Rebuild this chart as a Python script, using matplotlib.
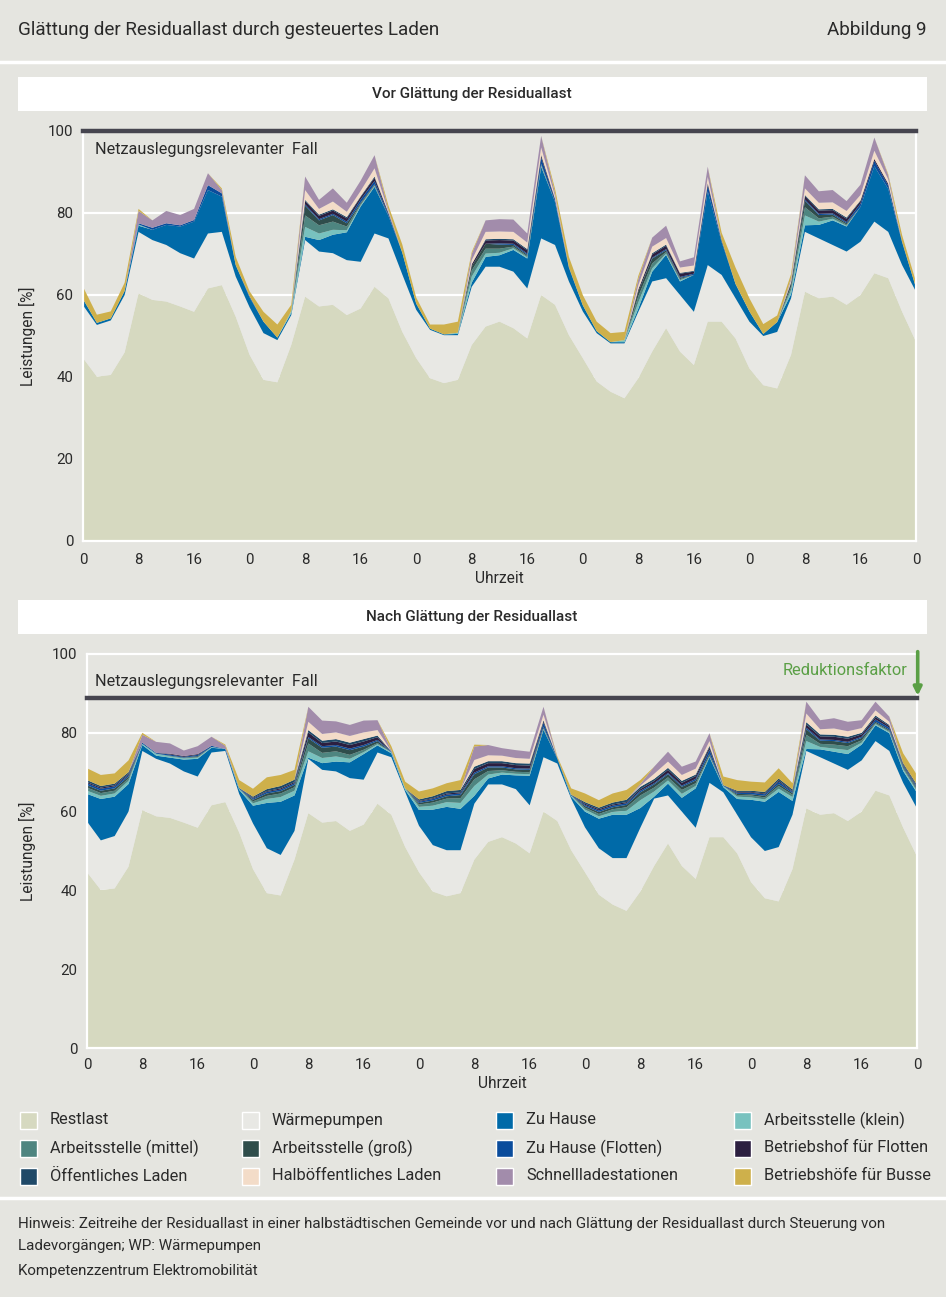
import numpy as np
import matplotlib.pyplot as plt
from matplotlib.patches import Rectangle
from matplotlib.lines import Line2D

plt.rcParams['font.family'] = ['Roboto', 'DejaVu Sans']

BG = '#e5e5e0'
TXT = '#2a2a2a'

# time axis: 5 days, one value every 2 hours
hours = np.arange(0, 121, 2)
xtick_pos = list(range(0, 121, 8))
xtick_lab = ['0', '8', '16', '0', '8', '16', '0', '8', '16',
             '0', '8', '16', '0', '8', '16', '0']

# shared base layers (same in both panels)
restlast = [44.6, 40.1, 40.5, 46.0, 60.4, 58.8, 58.4, 57.2, 55.9, 61.6, 62.4, 54.7, 45.4,
            39.3, 38.7, 47.8, 59.6, 57.2, 57.6, 55.1, 56.7, 62.0, 59.2, 51.0, 44.6,
            39.7, 38.5, 39.3, 47.8, 52.3, 53.5, 51.9, 49.4, 60.0, 57.6, 50.2, 44.6,
            38.9, 36.4, 34.8, 39.7, 46.2, 51.9, 46.2, 42.9, 53.5, 53.5, 49.4, 42.1,
            38.0, 37.2, 45.4, 60.8, 59.2, 59.6, 57.6, 60.0, 65.3, 64.1, 55.9, 48.6]
waermepumpen = [12.9, 12.6, 13.3, 14.0, 15.0, 14.6, 13.8, 13.0, 13.0, 13.4, 13.0, 9.8, 11.6,
                11.4, 10.3, 7.3, 13.8, 13.4, 12.6, 13.4, 11.4, 13.0, 14.6, 14.0, 11.8,
                11.8, 11.7, 10.9, 14.2, 14.6, 13.4, 13.8, 12.2, 13.8, 14.6, 13.1, 11.4,
                11.8, 11.8, 13.4, 16.2, 17.1, 12.2, 13.8, 13.0, 13.8, 11.4, 9.8, 11.4,
                12.0, 13.8, 13.8, 14.6, 14.6, 12.6, 13.0, 13.0, 12.6, 11.3, 11.4, 12.2]

# ---- before smoothing (top panel) ----
vor_zu_hause = [1.5, .5, .5, 1, 1.5, 2.5, 4.9, 6.5, 9, 10.6, 8.6, 2.8, 2.4,
                2.8, .6, .5, .8, 2.8, 4.5, 6.8, 13.5, 11.4, 5.5, 5.3, 1.5,
                .3, .2, .3, 1, 2.4, 2.8, 5.3, 7.3, 17.5, 10.5, 3.3, 1.5,
                .5, .3, .3, .8, 2.4, 5.7, 3.3, 9, 18, 8, 3.5, 2.5,
                .5, 2.4, 1, 1.6, 3.3, 6, 6.1, 8.5, 13.5, 10.5, 5.5, 1]
vor_as_klein = [0, 0, 0, 0, .3, 0, 0, 0, 0, 0, 0, 0, 0,
                0, 0, .5, 2.4, 1.6, 1.2, .5, .3, .2, 0, 0, 0,
                0, 0, .3, 1.5, .8, .6, .4, .3, .3, 0, 0, 0,
                0, 0, .5, 1.5, .8, .3, .3, 0, 0, 0, 0, 0,
                0, 0, 1, 2.4, .8, .4, .2, 0, 0, 0, 0, 0]
vor_as_mittel = [0, 0, 0, 0, 0, 0, 0, 0, 0, 0, 0, 0, 0,
                 0, 0, 0, 2.8, 2.0, 2.0, .9, .3, .2, 0, 0, 0,
                 0, 0, 0, 1.5, 1.2, 1.0, .4, .3, .2, 0, 0, 0,
                 0, 0, 0, 1.5, 1.2, .4, .3, 0, 0, 0, 0, 0,
                 0, 0, .8, 2, .8, .5, .3, 0, 0, 0, 0, 0]
vor_as_gross = [0, 0, 0, 0, 0, 0, 0, 0, 0, 0, 0, 0, 0,
                0, 0, 0, 2.4, 1.2, 1.6, .8, .3, .2, 0, 0, 0,
                0, 0, 0, 1.0, 1.2, 1.0, .4, .3, .2, 0, 0, 0,
                0, 0, 0, 1.2, 1.2, .4, .3, 0, 0, 0, 0, 0,
                0, 0, .8, 1.6, .8, .5, .3, 0, 0, 0, 0, 0]
vor_zh_flotten = [0, 0, 0, 0, .3, .5, .4, .3, .4, 1.2, .8, 0, .3,
                  0, 0, 0, .3, .3, .3, .4, .8, .8, .4, 0, 0,
                  0, 0, 0, 0, 0, .3, .3, .3, 1.5, .5, .2, 0,
                  0, 0, 0, 0, .2, .3, .2, .3, 1.5, .3, 0, 0,
                  0, 0, 0, .3, .3, .3, .3, .8, 1.3, .8, .2, 0]
vor_bh_flotten = [0, 0, 0, 0, 0, 0, 0, 0, 0, 0, 0, 0, 0,
                  0, 0, 0, .8, .8, .8, .8, .6, .8, .3, 0, 0,
                  0, 0, 0, .5, .8, .8, .8, .8, .5, .3, 0, 0,
                  0, 0, 0, .5, .8, .8, .8, .5, .5, .2, 0, 0,
                  0, 0, .3, .8, .8, .8, .8, .6, .5, .4, 0, 0]
vor_oeffentlich = [0, 0, 0, 0, 0, 0, 0, 0, 0, 0, 0, 0, 0,
                   0, 0, 0, .3, .3, .3, .3, .2, .3, .1, 0, 0,
                   0, 0, 0, 0, .3, .3, .3, .3, .2, 0, 0, 0,
                   0, 0, 0, 0, .3, .3, .2, .2, 0, 0, 0, 0,
                   0, 0, 0, .3, .3, .3, .3, .2, 0, .1, 0, 0]
vor_halboeff = [0, 0, 0, 0, 0, 0, 0, 0, 0, 0, 0, 0, 0,
                0, 0, 0, 2.4, 1.4, 1.9, 1.3, 1.3, 2.0, .3, 0, 0,
                0, 0, 0, 1.0, 1.8, 1.8, 1.8, 1.6, 1.8, .6, 0, 0,
                0, 0, 0, 1.0, 1.6, 1.6, 1.3, 1.3, 1.5, 0, 0, 0,
                0, 0, .5, 1.6, 1.6, 1.6, 1.6, 1.3, 2.0, 1.0, 0, 0]
vor_schnell = [0, 0, 0, 0, 3.0, 1.8, 3.0, 2.5, 2.7, 2.9, .8, 0, 0,
               0, 0, 0, 3.3, 2.2, 3.2, 2.2, 2.5, 3.2, .4, 0, 0,
               0, 0, 0, 1.5, 2.8, 3.0, 3.0, 2.2, 2.8, .8, 0, 0,
               0, 0, 0, 1.5, 2.2, 3.0, 1.5, 2.0, 2.5, 0, 0, 0,
               0, 0, .5, 3.2, 2.8, 3.0, 2.4, 2.5, 3.2, 1.0, 0, 0]
vor_busse = [3, 2, 1.7, 2, .5, 0, 0, 0, 0, 0, .4, 2, 1.2,
             2.4, 3.2, 1.5, 0, 0, 0, 0, 0, 0, 1.0, 2, 1.5,
             1, 2.4, 2.7, .5, 0, 0, 0, 0, 0, 1, 2.5, 2.5,
             2.3, 2.2, 2, .8, 0, 0, 0, 0, 0, 1.8, 4, 3.2,
             2.4, 1.6, 1, 0, 0, 0, 0, 0, 0, .3, 1.6, 1.4]

# ---- after smoothing (bottom panel) ----
nach_zu_hause = [7, 10.5, 10, 7, 1.5, .8, 1.5, 3, 4.5, 1.2, .5, 1, 4.5,
                 11.5, 13.5, 9, .3, 1.7, 2.5, 4, 6.5, 1.8, 1, .5, 4,
                 9, 11, 10.5, 2, 1.5, 2.5, 3.5, 7.5, 7, 1.2, .5, 4,
                 7.5, 11, 11, 5, .5, 3, 3.5, 10, 6.5, 1.3, 4, 9.5,
                 12.5, 14, 3.5, .5, 2, 3, 4, 4, 4, 4.5, 3, 4]
nach_as_klein = [.8, .8, .8, .8, .3, .5, .3, .3, .3, .2, 0, .3, .6,
                 1, 1.2, 1.2, 1.6, 1.3, 1.3, .9, .5, .3, .3, .4, .8,
                 1, 1.2, 1.5, 2.5, 1, .5, .4, .4, .2, 0, .3, .5,
                 .6, .7, 1, 2, 1.3, .8, 1, .6, .2, .3, .6, .6,
                 .6, .8, 1, 2, .6, .8, 1, .5, .3, .3, .5, .4]
nach_as_mittel = [.8, .7, .7, .6, 0, 0, .2, .2, .2, 0, 0, 0, .5,
                  .8, .9, .9, 2, 1.3, 1.3, 1, .6, .3, 0, 0, .6,
                  .8, .9, 1.2, 1.7, .9, .6, .5, .5, .2, 0, 0, .5,
                  .6, .7, .9, 1.2, 1, .8, 1, .7, .3, 0, .4, .5,
                  .5, .7, .6, 1.6, .8, 1, 1, .6, .3, .3, .4, .4]
nach_as_gross = [.6, .6, .6, .5, 0, 0, 0, 0, .2, 0, 0, 0, .4,
                 .6, .6, .6, 1.3, 1.3, 1.2, 1.2, .8, .5, 0, 0, .4,
                 .5, .6, .8, 1.3, .9, .7, .6, .6, .3, 0, 0, .4,
                 .5, .5, .6, .8, .8, .8, .8, .7, .4, 0, .3, .3,
                 .4, .5, .4, 1.4, .8, .9, .8, .6, .3, .3, .3, .3]
nach_zh_flotten = [.5, .5, .5, .4, .3, .2, .3, .2, .3, .3, 0, .2, .3,
                   .4, .4, .4, .3, .4, .4, .4, .4, .3, .2, 0, .3,
                   .4, .4, .4, .4, .3, .3, .3, .3, 1, .2, .2, .3,
                   .4, .4, .4, .4, .3, .3, .3, .4, 1, .2, .3, .4,
                   .4, .6, .3, .4, .3, .3, .3, .3, .6, .5, .3, .3]
nach_bh_flotten = [.3, .3, .3, .3, 0, 0, .2, .2, .2, 0, 0, 0, .2,
                   .2, .3, .3, 1.2, .8, .9, .9, .9, .7, 0, 0, .2,
                   .2, .3, .3, .9, .8, .8, .8, .8, .4, 0, 0, .3,
                   .3, .3, .3, .4, .6, .8, .7, .7, .6, 0, .2, .2,
                   .2, .3, .2, .8, .8, .8, .8, .6, .6, .4, .2, .2]
nach_oeffentlich = [.5, .4, .4, .4, 0, 0, 0, 0, 0, 0, 0, 0, .3,
                    .5, .6, .6, .6, .6, .6, .6, .6, .4, 0, 0, .4,
                    .5, .6, .6, .6, .5, .5, .5, .5, .3, 0, 0, .4,
                    .4, .5, .6, .6, .5, .5, .5, .4, .4, 0, .3, .3,
                    .4, .5, .4, .6, .5, .5, .5, .4, .4, .3, .3, .4]
nach_halboeff = [0, 0, 0, 0, 0, 0, 0, 0, 0, 0, 0, 0, 0,
                 0, 0, 0, 2.1, 1.7, 1.7, 1.7, 1.7, 1.4, 0, 0, 0,
                 0, 0, 0, 1.7, 1.5, 1.4, 1.3, 1.2, 1.4, 0, 0, 0,
                 0, 0, 0, .3, 1.3, 1.6, 1.5, 1.5, 1.2, 0, 0, 0,
                 0, 0, 0, 2.2, 1.3, 1.6, 1.4, 1.2, 1.3, .8, 0, 0]
nach_schnell = [0, 0, 0, 0, 2, 2.8, 2.6, 1.4, 2, 2.3, .8, 0, 0,
                0, 0, 0, 3.8, 3.4, 2.8, 2.8, 3, 2.5, .3, 0, 0,
                0, 0, 0, 3.4, 2.6, 1.9, 2, 1.8, 2, 0, 0, 0,
                0, 0, 0, .4, 1.8, 2.5, 2.1, 1.8, 2, 0, 0, 0,
                0, 0, 0, 3, 2.3, 2.6, 2.4, 2, 2.2, 1.3, 0, 0]
nach_busse = [3, 2.8, 2.6, 3, .5, 0, 0, 0, 0, 0, .3, 2, 2,
              3, 2.8, 2.5, 0, 0, 0, 0, 0, 0, 1, 1.7, 2,
              2, 2, 2.5, .5, 0, 0, 0, 0, 0, .4, 1.6, 2.2,
              1.9, 2.3, 2.5, 1, 0, 0, 0, 0, 0, 2.2, 2.7, 2.3,
              2.4, 2.6, 1.6, 0, 0, 0, 0, 0, 0, 0, 2.5, 2.5]

netz_vor = 100
netz_nach = 88.8

# stacking order bottom -> top (also legend order, row by row)
labels = ['Restlast', 'Wärmepumpen', 'Zu Hause', 'Arbeitsstelle (klein)',
          'Arbeitsstelle (mittel)', 'Arbeitsstelle (groß)', 'Zu Hause (Flotten)',
          'Betriebshof für Flotten', 'Öffentliches Laden', 'Halböffentliches Laden',
          'Schnellladestationen', 'Betriebshöfe für Busse']
colors = ['#d6d9c0', '#e8e8e4', '#006aa8', '#78c2bf',
          '#4e8580', '#2f4d4b', '#0a4c9c', '#2c1f40',
          '#1f4968', '#f3dcc8', '#a28cab', '#ceb04b']

vor = [restlast, waermepumpen, vor_zu_hause, vor_as_klein, vor_as_mittel,
       vor_as_gross, vor_zh_flotten, vor_bh_flotten, vor_oeffentlich,
       vor_halboeff, vor_schnell, vor_busse]
nach = [restlast, waermepumpen, nach_zu_hause, nach_as_klein, nach_as_mittel,
        nach_as_gross, nach_zh_flotten, nach_bh_flotten, nach_oeffentlich,
        nach_halboeff, nach_schnell, nach_busse]

W, H = 946, 1297
fig = plt.figure(figsize=(W / 100, H / 100), dpi=100, facecolor=BG)


def fy(py):
    return 1 - py / H


# header
fig.text(18 / W, fy(30), 'Glättung der Residuallast durch gesteuertes Laden',
         fontsize=13.6, color=TXT, va='center')
fig.text(927 / W, fy(30), 'Abbildung 9', fontsize=13.6, color=TXT,
         va='center', ha='right')
for py in (61.5, 1197.5):
    fig.add_artist(Line2D([0, 1], [fy(py), fy(py)], color='white', lw=2.5,
                          transform=fig.transFigure))

# panel title boxes
for top, title in ((77, 'Vor Glättung der Residuallast'),
                   (600, 'Nach Glättung der Residuallast')):
    fig.add_artist(Rectangle((18 / W, fy(top + 34)), 909 / W, 34 / H,
                             transform=fig.transFigure, facecolor='white',
                             edgecolor='none'))
    fig.text(472 / W, fy(top + 17), title, fontsize=11, color=TXT,
             ha='center', va='center', fontweight='medium')


def draw_panel(rect, layers, netz, lab_y, lab_x):
    ax = fig.add_axes(rect)
    ax.set_facecolor(BG)
    ax.stackplot(hours, *layers, colors=colors, linewidth=0, zorder=2)
    for g in (20, 40, 60, 80):
        ax.axhline(g, color='white', lw=1.6, zorder=1)
    ax.axhline(netz, color='#46454f', lw=3.2, zorder=5, clip_on=False)
    ax.text(lab_x, lab_y, 'Netzauslegungsrelevanter  Fall', fontsize=11.7,
            color=TXT, va='center', zorder=6)
    ax.set_xlim(0, 120)
    ax.set_ylim(0, 100)
    ax.set_xticks(xtick_pos)
    ax.set_xticklabels(xtick_lab)
    ax.set_yticks([0, 20, 40, 60, 80, 100])
    ax.tick_params(length=0, labelsize=10.8, colors=TXT)
    ax.tick_params(axis='y', pad=7)
    for s in ax.spines.values():
        s.set_color('white')
        s.set_linewidth(1.6)
        s.set_zorder(4)
    ax.set_xlabel('Uhrzeit', fontsize=11.2, color=TXT)
    ax.set_ylabel('Leistungen [%]', fontsize=11.2, color=TXT)
    return ax


ax1 = draw_panel([83 / W, fy(541), 833 / W, 410 / H], vor, netz_vor, 95.6, 1.7)
ax1.tick_params(axis='x', pad=9)
ax1.xaxis.set_label_coords(0.5, -0.074)
ax1.yaxis.set_label_coords(-0.057, 0.5)

ax2 = draw_panel([87 / W, fy(1048), 830 / W, 394 / H], nach, netz_nach, 92.9, 1.2)
ax2.tick_params(axis='x', pad=7)
ax2.xaxis.set_label_coords(0.5, -0.072)
ax2.yaxis.set_label_coords(-0.062, 0.5)
ax2.text(118.6, 95.9, 'Reduktionsfaktor', fontsize=11.8, color='#5a9f45',
         ha='right', va='center')
ax2.annotate('', xy=(120.1, netz_nach + 0.6), xytext=(120.1, 100.6),
             arrowprops=dict(arrowstyle='-|>', color='#5a9f45', lw=2.6,
                             mutation_scale=12, shrinkA=0, shrinkB=0),
             annotation_clip=False, zorder=7)

# legend, 4 columns filled row by row
col_x = [20, 242, 496, 734]
row_y = [1120, 1148, 1176]
for k, (lab, col) in enumerate(zip(labels, colors)):
    r, c = divmod(k, 4)
    x0, yc = col_x[c], row_y[r]
    fig.add_artist(Rectangle((x0 / W, fy(yc + 9)), 17 / W, 17 / H,
                             transform=fig.transFigure, facecolor=col,
                             edgecolor='white', lw=1))
    fig.text((x0 + 30) / W, fy(yc), lab, fontsize=11.8, color=TXT, va='center')

# footer
fig.text(18 / W, fy(1224), 'Hinweis: Zeitreihe der Residuallast in einer halbstädtischen '
         'Gemeinde vor und nach Glättung der Residuallast durch Steuerung von',
         fontsize=10.9, color=TXT, va='center')
fig.text(18 / W, fy(1246), 'Ladevorgängen; WP: Wärmepumpen', fontsize=10.9,
         color=TXT, va='center')
fig.text(18 / W, fy(1271), 'Kompetenzzentrum Elektromobilität', fontsize=10.9,
         color=TXT, va='center')

fig.savefig('out.png', dpi=100, facecolor=BG)
